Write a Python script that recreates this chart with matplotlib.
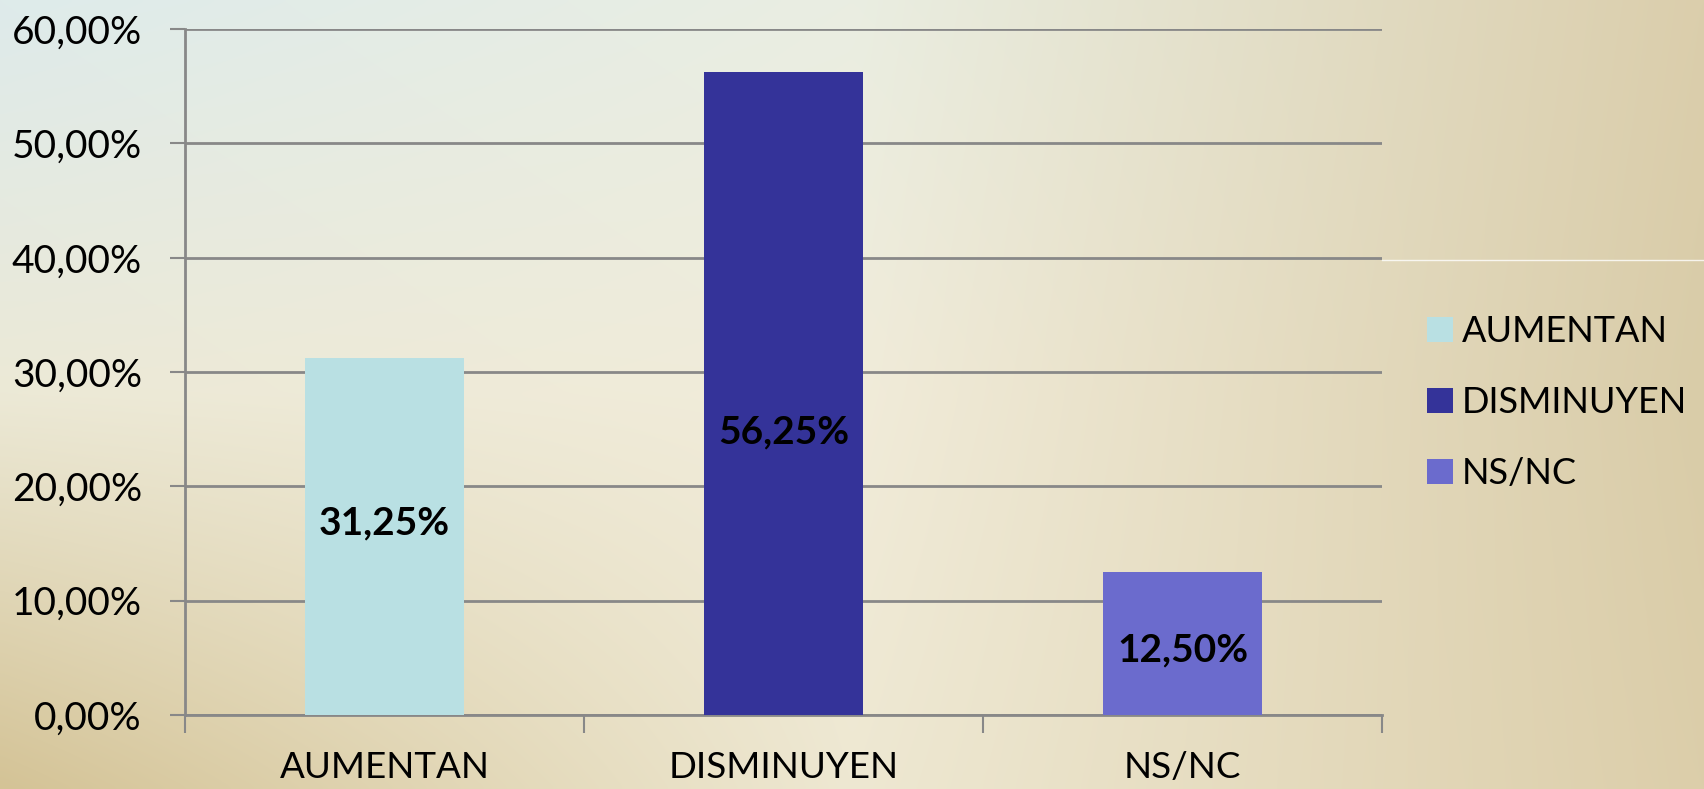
import numpy as np
import matplotlib
matplotlib.use('Agg')
import matplotlib.pyplot as plt
from matplotlib.patches import Patch

plt.rcParams['font.family'] = ['Lato', 'DejaVu Sans']

# data
categories = ['AUMENTAN', 'DISMINUYEN', 'NS/NC']
values = [31.25, 56.25, 12.50]
colors = ['#b9e0e3', '#343399', '#6b6bcd']
# heights (in % units) where the value labels sit
label_y = [16.8, 24.8, 5.7]
yticks = [0, 10, 20, 30, 40, 50, 60]

fig = plt.figure(figsize=(17.04, 7.89), dpi=100)

# background gradient (slide look)
bg = fig.add_axes([0, 0, 1, 1], zorder=-10)
grid_cols = np.array([
    [[222, 235, 235], [234, 238, 226], [219, 206, 172]],
    [[236, 233, 214], [241, 236, 218], [217, 204, 168]],
    [[212, 195, 150], [238, 232, 210], [220, 206, 170]],
], dtype=float) / 255.0
ny, nx = 200, 400
yy = np.linspace(0, 2, ny)
xx = np.linspace(0, 2, nx)
img = np.zeros((ny, nx, 3))
for c in range(3):
    rows = np.array([np.interp(xx, [0, 1, 2], grid_cols[r, :, c]) for r in range(3)])
    for j in range(nx):
        img[:, j, c] = np.interp(yy, [0, 1, 2], rows[:, j])
bg.imshow(img, aspect='auto', extent=[0, 1, 0, 1], interpolation='bicubic')
bg.plot([0.811, 1.0], [0.67, 0.67], color='white', lw=1, alpha=0.8)
bg.set_xlim(0, 1)
bg.set_ylim(0, 1)
bg.axis('off')

ax = fig.add_axes([0.1086, 0.0938, 0.7025, 0.8692])
ax.patch.set_alpha(0)
x = np.arange(len(categories))
ax.bar(x, values, width=0.40, color=colors, zorder=3)

for xi, v, ly in zip(x, values, label_y):
    ax.text(xi, ly, f'{v:.2f}%'.replace('.', ','), ha='center', va='center',
            fontsize=28, fontweight='bold', color='black', zorder=4)

ax.set_xlim(-0.5, 2.5)
ax.set_ylim(0, 60)
ax.set_yticks(yticks)
ax.set_yticklabels([f'{t:.2f}%'.replace('.', ',') for t in yticks], fontsize=28)
ax.yaxis.grid(True, color='#888888', lw=2, zorder=0)

ax.set_xticks([-0.5, 0.5, 1.5, 2.5])
ax.set_xticklabels([])
ax.set_xticks(x, minor=True)
ax.set_xticklabels(categories, minor=True, fontsize=26.5)
ax.tick_params(axis='x', which='major', length=13, width=1.5, color='#888888', direction='out')
ax.tick_params(axis='x', which='minor', length=0, pad=26)
ax.tick_params(axis='y', length=11, width=1.5, color='#888888', pad=20)

for s in ['top', 'right']:
    ax.spines[s].set_visible(False)
ax.spines['left'].set_color('#888888')
ax.spines['left'].set_linewidth(2)
ax.spines['bottom'].set_color('#888888')
ax.spines['bottom'].set_linewidth(2)

handles = [Patch(facecolor=c, edgecolor='none') for c in colors]
fig.legend(handles, categories, loc='center left', bbox_to_anchor=(0.8185, 0.49),
           frameon=False, fontsize=26, handlelength=0.7, handleheight=0.7,
           handletextpad=0.25, labelspacing=1.05)

plt.savefig('out.png', dpi=100)
